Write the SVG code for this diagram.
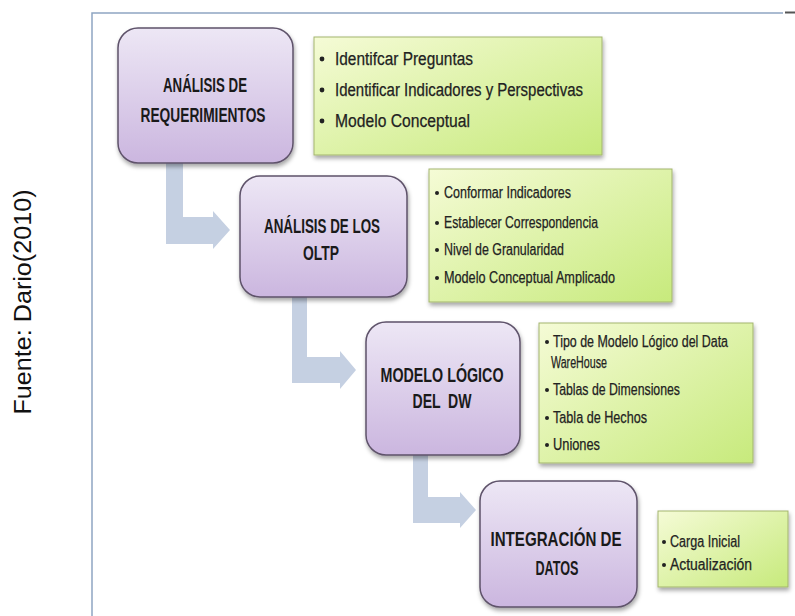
<svg xmlns="http://www.w3.org/2000/svg" width="795" height="616" viewBox="0 0 795 616">
  <defs>
    <linearGradient id="stepFill" x1="0" y1="0" x2="0" y2="1">
      <stop offset="0" stop-color="#ede7f5"/>
      <stop offset="1" stop-color="#cbb6df"/>
    </linearGradient>
    <linearGradient id="listFill" x1="0" y1="0" x2="1" y2="1">
      <stop offset="0" stop-color="#f5fbd6"/>
      <stop offset="1" stop-color="#c7ea7c"/>
    </linearGradient>
    <filter id="shadow" x="-10%" y="-10%" width="125%" height="130%">
      <feDropShadow dx="1" dy="3" stdDeviation="2" flood-color="#000" flood-opacity="0.35"/>
    </filter>
  </defs>
  <style>
    .step { fill: url(#stepFill); stroke: #5e526a; stroke-width: 1.5; filter: url(#shadow); }
    .list { fill: url(#listFill); stroke: #a3b56e; stroke-width: 1; filter: url(#shadow); }
    .title { font-family: "Liberation Sans Narrow", "Liberation Sans", Arial, sans-serif; font-weight: bold; font-size: 20px; fill: #1a1a1a; text-anchor: middle; }
    .item { font-family: "Liberation Sans Narrow", "Liberation Sans", Arial, sans-serif; fill: #222; stroke: #222; stroke-width: 0.25; }
    .big { font-size: 18px; }
    .small { font-size: 16px; }
    .bullet { fill: #222; }
    .arrow { fill: #c5d0e2; }
    .frame { stroke: #8ea5c2; stroke-width: 1.5; fill: none; }
  </style>

  <rect width="795" height="616" fill="#ffffff"/>

  <!-- frame -->
  <path class="frame" d="M92,616 V13 H783"/>
  <line x1="785" y1="12.5" x2="795" y2="12.5" stroke="#555" stroke-width="2"/>

  <!-- side caption -->
  <text transform="translate(31,302) rotate(-90)" text-anchor="middle" font-family="'Liberation Sans',Arial,sans-serif" font-size="23" fill="#111" textLength="225" lengthAdjust="spacingAndGlyphs">Fuente: Dario(2010)</text>

  <!-- connectors -->
  <g id="connectors">
    <polygon class="arrow" points="166,163 183,163 183,217 213,217 213,211 230,230 213,249 213,244 166,244"/>
    <polygon class="arrow" points="292,297 307,297 307,357 340,357 340,351 356,370 340,389 340,383 292,383"/>
    <polygon class="arrow" points="413,455 428,455 428,497 460,497 460,492 476,510 460,528 460,523 413,523"/>
  </g>

  <!-- step 1 -->
  <g id="step1">
    <rect class="step" x="118" y="28" width="175" height="135" rx="20"/>
    <text class="title" x="205" y="92" textLength="84" lengthAdjust="spacingAndGlyphs">ANÁLISIS DE</text>
    <text class="title" x="203" y="122" textLength="125" lengthAdjust="spacingAndGlyphs">REQUERIMIENTOS</text>
  </g>
  <g id="list1">
    <rect class="list" x="314" y="37" width="288" height="118"/>
    <circle class="bullet" cx="322" cy="59" r="2.4"/>
    <text class="item big" x="335" y="65" textLength="138" lengthAdjust="spacingAndGlyphs">Identifcar Preguntas</text>
    <circle class="bullet" cx="322" cy="90" r="2.4"/>
    <text class="item big" x="335" y="96" textLength="248" lengthAdjust="spacingAndGlyphs">Identificar Indicadores y Perspectivas</text>
    <circle class="bullet" cx="322" cy="121" r="2.4"/>
    <text class="item big" x="335" y="127" textLength="135" lengthAdjust="spacingAndGlyphs">Modelo Conceptual</text>
  </g>

  <!-- step 2 -->
  <g id="step2">
    <rect class="step" x="240" y="176" width="167" height="121" rx="20"/>
    <text class="title" x="322" y="233" textLength="116" lengthAdjust="spacingAndGlyphs">ANÁLISIS DE LOS</text>
    <text class="title" x="321" y="260" textLength="36" lengthAdjust="spacingAndGlyphs">OLTP</text>
  </g>
  <g id="list2">
    <rect class="list" x="429" y="169" width="243" height="133"/>
    <circle class="bullet" cx="437" cy="193" r="2"/>
    <text class="item small" x="444" y="198" textLength="127" lengthAdjust="spacingAndGlyphs">Conformar Indicadores</text>
    <circle class="bullet" cx="437" cy="223" r="2"/>
    <text class="item small" x="444" y="228" textLength="154" lengthAdjust="spacingAndGlyphs">Establecer Correspondencia</text>
    <circle class="bullet" cx="437" cy="250" r="2"/>
    <text class="item small" x="444" y="255" textLength="120" lengthAdjust="spacingAndGlyphs">Nivel de Granularidad</text>
    <circle class="bullet" cx="437" cy="278" r="2"/>
    <text class="item small" x="444" y="283" textLength="171" lengthAdjust="spacingAndGlyphs">Modelo Conceptual Amplicado</text>
  </g>

  <!-- step 3 -->
  <g id="step3">
    <rect class="step" x="366" y="322" width="154" height="133" rx="20"/>
    <text class="title" x="442" y="382" textLength="123" lengthAdjust="spacingAndGlyphs">MODELO LÓGICO</text>
    <text class="title" x="442" y="408" textLength="59" lengthAdjust="spacingAndGlyphs" xml:space="preserve">DEL  DW</text>
  </g>
  <g id="list3">
    <rect class="list" x="539" y="323" width="214" height="140"/>
    <circle class="bullet" cx="547" cy="342" r="2"/>
    <text class="item small" x="553" y="347" textLength="175" lengthAdjust="spacingAndGlyphs">Tipo de Modelo Lógico del Data</text>
    <text class="item small" x="551" y="368" textLength="56" lengthAdjust="spacingAndGlyphs">WareHouse</text>
    <circle class="bullet" cx="547" cy="390" r="2"/>
    <text class="item small" x="553" y="395" textLength="127" lengthAdjust="spacingAndGlyphs">Tablas de Dimensiones</text>
    <circle class="bullet" cx="547" cy="418" r="2"/>
    <text class="item small" x="553" y="423" textLength="94" lengthAdjust="spacingAndGlyphs">Tabla de Hechos</text>
    <circle class="bullet" cx="547" cy="445" r="2"/>
    <text class="item small" x="553" y="450" textLength="47" lengthAdjust="spacingAndGlyphs">Uniones</text>
  </g>

  <!-- step 4 -->
  <g id="step4">
    <rect class="step" x="480" y="481" width="157" height="126" rx="20"/>
    <text class="title" x="556" y="546" textLength="131" lengthAdjust="spacingAndGlyphs">INTEGRACIÓN DE</text>
    <text class="title" x="557" y="575" textLength="43" lengthAdjust="spacingAndGlyphs">DATOS</text>
  </g>
  <g id="list4">
    <rect class="list" x="658" y="511" width="130" height="76"/>
    <circle class="bullet" cx="664" cy="542" r="2"/>
    <text class="item small" x="670" y="547" textLength="70" lengthAdjust="spacingAndGlyphs">Carga Inicial</text>
    <circle class="bullet" cx="664" cy="565" r="2"/>
    <text class="item small" x="670" y="570" textLength="82" lengthAdjust="spacingAndGlyphs">Actualización</text>
  </g>
</svg>
